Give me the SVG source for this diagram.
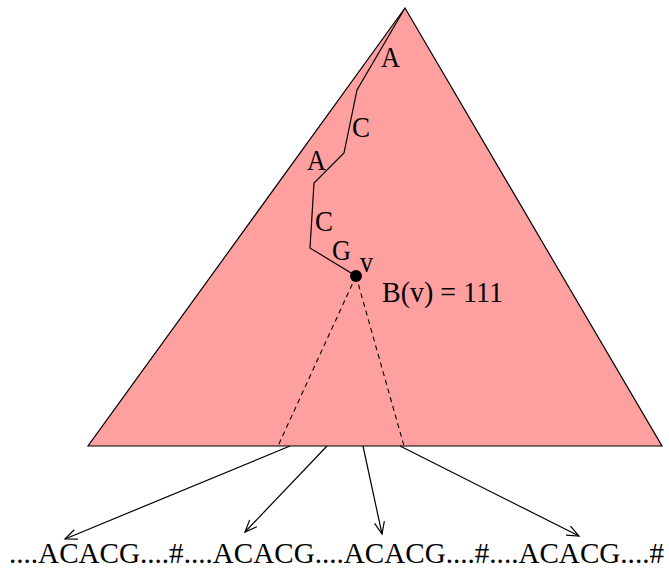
<svg xmlns="http://www.w3.org/2000/svg" width="669" height="569" viewBox="0 0 669 569">
<style>
text{font-family:"Liberation Serif","Times New Roman",serif;font-size:30px;fill:#000}
.ln{fill:none;stroke:#000;stroke-width:1.2}
.dash{fill:none;stroke:#000;stroke-width:1.1;stroke-dasharray:5,4}
</style>
<defs>
<marker id="ah" markerWidth="16" markerHeight="12" refX="13" refY="6" orient="auto" markerUnits="userSpaceOnUse">
<polyline points="1,1 13,6 1,11" fill="none" stroke="#000" stroke-width="1.2"/>
</marker>
</defs>
<g id="tree">
<polygon points="405,8 88,446 662,446" fill="#ffa0a0" stroke="#000" stroke-width="1.2"/>
</g>
<g id="path">
<polyline class="ln" points="405,8 357,90 344,153 314,183 310,248 356,276"/>
<text x="381" y="67" textLength="19" lengthAdjust="spacingAndGlyphs">A</text>
<text x="352" y="137" textLength="18" lengthAdjust="spacingAndGlyphs">C</text>
<text x="307" y="170" textLength="19" lengthAdjust="spacingAndGlyphs">A</text>
<text x="315" y="231" textLength="18" lengthAdjust="spacingAndGlyphs">C</text>
<text x="332" y="260" textLength="19" lengthAdjust="spacingAndGlyphs">G</text>
</g>
<g id="v">
<circle cx="356" cy="276" r="6" fill="#000"/>
<text x="360" y="272" textLength="13" lengthAdjust="spacingAndGlyphs">v</text>
<text x="382" y="302" textLength="121" lengthAdjust="spacingAndGlyphs">B(v) = 111</text>
</g>
<g id="connectors">
<line class="dash" x1="356" y1="276" x2="278" y2="446"/>
<line class="dash" x1="356" y1="276" x2="404" y2="446"/>
<line class="ln" x1="290" y1="446" x2="65" y2="539" marker-end="url(#ah)"/>
<line class="ln" x1="327" y1="446" x2="245" y2="532" marker-end="url(#ah)"/>
<line class="ln" x1="363" y1="446" x2="382" y2="534" marker-end="url(#ah)"/>
<line class="ln" x1="400" y1="446" x2="579" y2="536" marker-end="url(#ah)"/>
</g>
<g id="string">
<text x="9" y="562.5" style="font-size:29px" textLength="655" lengthAdjust="spacingAndGlyphs">....ACACG....#....ACACG....ACACG....#....ACACG....#</text>
</g>
</svg>
